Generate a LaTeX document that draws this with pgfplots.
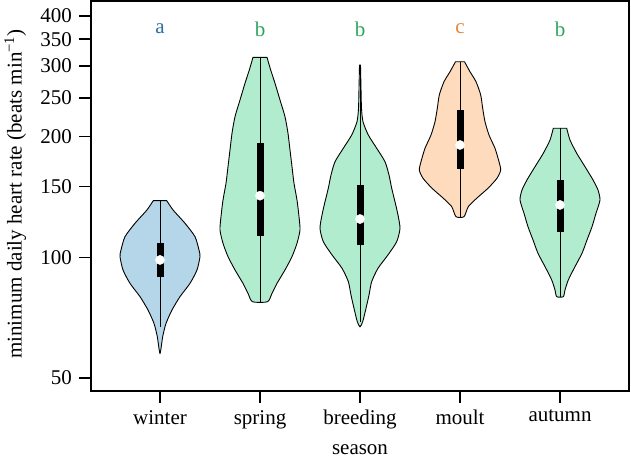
\documentclass[border=0pt]{standalone}
\usepackage{pgfplots}
\pgfplotsset{compat=1.18}
\usepackage{fontspec}
\setmainfont{Liberation Serif}
\definecolor{wfill}{RGB}{180,214,232}
\definecolor{gfill}{RGB}{178,236,206}
\definecolor{ofill}{RGB}{253,219,188}
\definecolor{acol}{RGB}{45,112,155}
\definecolor{bcol}{RGB}{45,165,95}
\definecolor{ccol}{RGB}{225,135,65}
\begin{document}
\fontsize{21}{25}\selectfont
\begin{tikzpicture}
\useasboundingbox (-91pt,-70pt) rectangle (540pt,391pt);
\begin{axis}[
  at={(0,0)}, anchor=south west,
  scale only axis, width=538pt, height=390pt,
  ymode=log, ymin=46.4, ymax=436,
  xmin=-0.69, xmax=4.69,
  xtick={0,1,2,3,4},
  xticklabels={winter,spring,breeding,moult,autumn},
  ytick={50,100,150,200,250,300,350,400},
  yticklabels={50,100,150,200,250,300,350,400},
  minor ytick={}, minor tick num=0,
  log basis y=10,
  tick align=outside, major tick length=12pt,
  tick style={line width=1.5pt, black},
  axis line style={line width=1.5pt},
  ytick pos=left, xtick pos=bottom,
  /pgf/number format/assume math mode=true,
  xlabel={season},
  ylabel={minimum daily heart rate (beats min\textsuperscript{\char"2212 1})},
  ylabel style={at={(ticklabel cs:0.505)}},
  xlabel style={yshift=-7pt, inner sep=1pt},
  clip=false,
]
% violins
\addplot[fill=wfill, draw=black, line width=0.9pt, smooth, tension=0.4] coordinates {
(0.067,138.5)(0.13,131.3)(0.25,121.6)(0.35,112.6)(0.39,104.3)(0.40,100.4)(0.37,93.0)(0.30,86.1)(0.20,79.8)(0.12,73.9)(0.06,68.4)(0.027,63.4)(0,57.6)
(-0.027,63.4)(-0.06,68.4)(-0.12,73.9)(-0.20,79.8)(-0.30,86.1)(-0.37,93.0)(-0.40,100.4)(-0.39,104.3)(-0.35,112.6)(-0.25,121.6)(-0.13,131.3)(-0.067,138.5)
} -- cycle;
\addplot[fill=gfill, draw=black, line width=0.9pt, smooth, tension=0.4] coordinates {
(1.07,315.5)(1.107,293.3)(1.15,271.8)(1.20,246.9)(1.25,224.3)(1.28,203.9)(1.30,185.3)(1.32,168.3)(1.34,153.0)(1.37,139.0)(1.39,126.3)(1.40,117.0)(1.37,108.4)(1.32,100.4)(1.25,93.0)(1.17,86.1)(1.12,81.3)(1.075,77.5)
(0.925,77.5)(0.88,81.3)(0.83,86.1)(0.75,93.0)(0.68,100.4)(0.63,108.4)(0.60,117.0)(0.61,126.3)(0.63,139.0)(0.66,153.0)(0.68,168.3)(0.70,185.3)(0.72,203.9)(0.75,224.3)(0.80,246.9)(0.85,271.8)(0.893,293.3)(0.93,315.5)
} -- cycle;
\addplot[fill=gfill, draw=black, line width=0.9pt, smooth, tension=0.4] coordinates {
(2.005,301.8)(2.01,264.1)(2.015,235.3)(2.03,217.9)(2.083,201.9)(2.167,187.1)(2.25,173.2)(2.29,160.4)(2.317,148.7)(2.35,137.6)(2.38,127.5)(2.40,118.1)(2.367,109.4)(2.28,101.4)(2.18,93.9)(2.117,87.0)(2.09,80.5)(2.06,74.6)(2.027,69.1)(2,67.1)
(1.973,69.1)(1.94,74.6)(1.91,80.5)(1.883,87.0)(1.82,93.9)(1.72,101.4)(1.633,109.4)(1.60,118.1)(1.62,127.5)(1.65,137.6)(1.683,148.7)(1.71,160.4)(1.75,173.2)(1.833,187.1)(1.917,201.9)(1.97,217.9)(1.985,235.3)(1.99,264.1)(1.995,301.8)
} -- cycle;
\addplot[fill=ofill, draw=black, line width=0.9pt, smooth, tension=0.4] coordinates {
(3.045,307.6)(3.10,290.4)(3.16,274.3)(3.207,254.1)(3.227,235.3)(3.25,217.9)(3.29,201.9)(3.35,187.1)(3.39,173.2)(3.407,165.1)(3.37,157.5)(3.28,148.7)(3.167,140.4)(3.083,133.8)(3.04,126.3)
(2.96,126.3)(2.917,133.8)(2.833,140.4)(2.72,148.7)(2.63,157.5)(2.593,165.1)(2.61,173.2)(2.65,187.1)(2.71,201.9)(2.75,217.9)(2.773,235.3)(2.793,254.1)(2.84,274.3)(2.90,290.4)(2.955,307.6)
} -- cycle;
\addplot[fill=gfill, draw=black, line width=0.9pt, smooth, tension=0.4] coordinates {
(4.067,209.9)(4.10,196.2)(4.167,181.8)(4.25,168.3)(4.33,156.0)(4.38,147.2)(4.40,139.0)(4.36,128.8)(4.32,119.2)(4.27,110.5)(4.22,102.3)(4.15,94.8)(4.083,87.8)(4.05,82.9)(4.033,79.8)
(3.967,79.8)(3.95,82.9)(3.917,87.8)(3.85,94.8)(3.78,102.3)(3.73,110.5)(3.68,119.2)(3.64,128.8)(3.60,139.0)(3.62,147.2)(3.67,156.0)(3.75,168.3)(3.833,181.8)(3.90,196.2)(3.933,209.9)
} -- cycle;
% whiskers
\addplot[black, line width=0.9pt] coordinates {(0,67.1)(0,138.5)};
\addplot[black, line width=0.9pt] coordinates {(1,77.5)(1,315.5)};
\addplot[black, line width=0.9pt] coordinates {(2,69)(2,301.8)};
\addplot[black, line width=0.9pt] coordinates {(3,126.3)(3,307.6)};
\addplot[black, line width=0.9pt] coordinates {(4,79.8)(4,209.9)};
% boxes
\addplot[black, line width=7pt] coordinates {(0,89.5)(0,108.8)};
\addplot[black, line width=7pt] coordinates {(1,113.2)(1,193.2)};
\addplot[black, line width=7pt] coordinates {(2,107.3)(2,151.5)};
\addplot[black, line width=7pt] coordinates {(3,166.1)(3,233.1)};
\addplot[black, line width=7pt] coordinates {(4,115.9)(4,156.0)};
% medians
\addplot[only marks, mark=*, mark size=4.6pt, mark options={fill=white, draw=white}] coordinates {(0,98.5)(1,142.5)(2,124.6)(3,190.7)(4,135.1)};
% letters
\node[acol] at (axis cs:0,371) {a};
\node[bcol] at (axis cs:1,371) {b};
\node[bcol] at (axis cs:2,371) {b};
\node[ccol] at (axis cs:3,371) {c};
\node[bcol] at (axis cs:4,371) {b};
\end{axis}
\end{tikzpicture}
\end{document}
